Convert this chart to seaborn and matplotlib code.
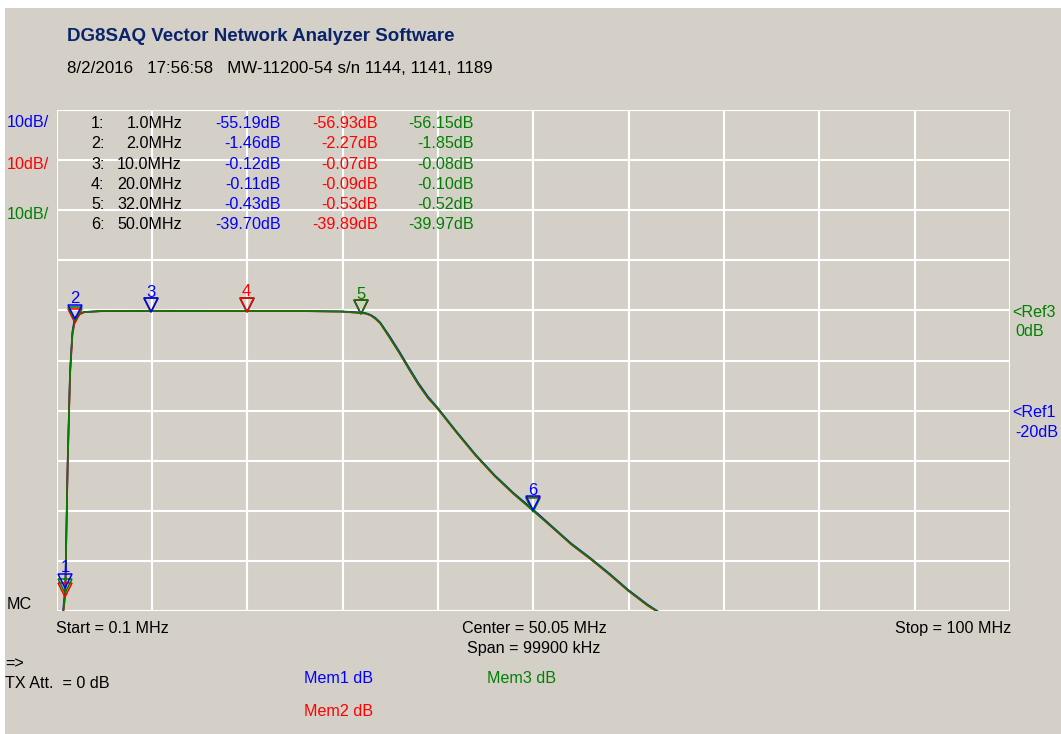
import matplotlib
matplotlib.use("Agg")
import matplotlib.pyplot as plt
import matplotlib.transforms as mtransforms
from matplotlib.patches import Rectangle
import numpy as np
import pandas as pd
import seaborn as sns

# ---------------- data ----------------
freq_mhz = [0.1, 0.5, 0.75, 1.0, 1.25, 1.5, 1.75, 2.0, 2.5, 3.0, 5.0, 10.0, 15.0,
            20.0, 25.0, 30.0, 32.0, 32.5, 33.0, 33.5, 34.0, 35.0, 36.0, 37.0, 38.0, 39.0, 40.0,
            42.0, 44.0, 46.0, 48.0, 50.0, 52.0, 54.0, 56.0, 58.0, 60.0, 62.0, 64.0]
mem1_db = [-80.0, -70.0, -60.5, -55.19, -30.0, -12.0, -4.2, -1.46, -0.6, -0.3, -0.15, -0.12, -0.1,
           -0.11, -0.12, -0.2, -0.43, -0.55, -0.9, -1.5, -2.4, -5.2, -8.2, -11.4, -14.5, -17.2, -19.4,
           -24.2, -28.8, -32.9, -36.5, -39.70, -43.1, -46.5, -49.4, -52.5, -55.8, -58.7, -61.2]
mem2_db = [-80.0, -70.0, -61.0, -56.93, -31.0, -13.0, -4.8, -2.27, -0.8, -0.35, -0.1, -0.07, -0.08,
           -0.09, -0.12, -0.25, -0.53, -0.65, -1.0, -1.7, -2.6, -5.5, -8.5, -11.7, -14.8, -17.5, -19.6,
           -24.4, -29.0, -33.1, -36.7, -39.89, -43.3, -46.7, -49.6, -52.7, -56.0, -58.9, -61.3]
mem3_db = [-80.0, -70.0, -60.8, -56.15, -30.5, -12.5, -4.5, -1.85, -0.7, -0.32, -0.1, -0.08, -0.09,
           -0.10, -0.12, -0.24, -0.52, -0.62, -0.95, -1.6, -2.5, -5.4, -8.4, -11.6, -14.7, -17.4, -19.5,
           -24.3, -28.9, -33.0, -36.6, -39.97, -43.2, -46.6, -49.5, -52.6, -55.9, -58.8, -61.2]

marker_freq = [1.0, 2.0, 10.0, 20.0, 32.0, 50.0]
marker_mem1 = [-55.19, -1.46, -0.12, -0.11, -0.43, -39.70]
marker_mem2 = [-56.93, -2.27, -0.07, -0.09, -0.53, -39.89]
marker_mem3 = [-56.15, -1.85, -0.08, -0.10, -0.52, -39.97]
marker_freq_labels = ["1.0MHz", "2.0MHz", "10.0MHz", "20.0MHz", "32.0MHz", "50.0MHz"]
marker_top = ["blue", "blue", "blue", "red", "green", "blue"]

BG = "#D4D0C8"
BLUE = "#0000FF"
RED = "#FF0000"
GREEN = "#008000"
NAVY = "#0A246A"
colors = {"blue": BLUE, "red": RED, "green": GREEN}

plt.rcParams["font.family"] = ["Liberation Sans", "DejaVu Sans"]

W, H = 1061, 734
fig = plt.figure(figsize=(W / 100, H / 100), dpi=100)
fig.patch.set_facecolor("white")
fig.add_artist(Rectangle((5 / W, 0), 1 - 5 / W, 1 - 8 / H, transform=fig.transFigure,
                         facecolor=BG, edgecolor="none", zorder=0))

x0, x1, y0, y1 = 56.7, 1010.0, 110.0, 611.0
ax = fig.add_axes([x0 / W, 1 - y1 / H, (x1 - x0) / W, (y1 - y0) / H])
ax.set_facecolor(BG)
ax.patch.set_alpha(0)

df = pd.DataFrame({"f": freq_mhz * 3,
                   "db": mem1_db + mem2_db + mem3_db,
                   "mem": ["Mem1"] * len(freq_mhz) + ["Mem2"] * len(freq_mhz) + ["Mem3"] * len(freq_mhz)})
sns.lineplot(data=df, x="f", y="db", hue="mem", palette={"Mem1": BLUE, "Mem2": RED, "Mem3": GREEN},
             hue_order=["Mem1", "Mem2", "Mem3"], ax=ax, linewidth=1.2, legend=False, estimator=None,
             sort=False, zorder=3)
for ln, z in zip(ax.lines, [3, 3.2, 3.4]):
    ln.set_zorder(z)

ax.set_xlim(0.1, 100)
ax.set_ylim(-60, 40)
ax.set_xticks(np.linspace(0.1, 100, 11))
ax.set_yticks(np.arange(-60, 41, 10))
ax.grid(True, color="white", linewidth=1.5)
ax.tick_params(length=0, labelbottom=False, labelleft=False)
for s in ax.spines.values():
    s.set_visible(False)
ax.set_xlabel("")
ax.set_ylabel("")

# markers
tri = mtransforms.offset_copy(ax.transData, fig=fig, x=0, y=6, units="dots")
num = mtransforms.offset_copy(ax.transData, fig=fig, x=0, y=19, units="dots")
traces = {"blue": marker_mem1, "red": marker_mem2, "green": marker_mem3}
for i, f in enumerate(marker_freq):
    order = [c for c in ["blue", "red", "green"] if c != marker_top[i]] + [marker_top[i]]
    for k, c in enumerate(order):
        v = traces[c][i]
        ax.plot([f], [v], marker="v", markersize=10, markerfacecolor="none",
                markeredgecolor=colors[c], markeredgewidth=1.1, transform=tri,
                zorder=5 + k, clip_on=False)
    vt = traces[marker_top[i]][i]
    ax.text(f, vt, str(i + 1), transform=num, ha="center", va="center",
            fontsize=12, color=colors[marker_top[i]], zorder=9, clip_on=False)

FS = 11.6
def ftxt(x, y, s, **kw):
    kw.setdefault("fontsize", FS)
    kw.setdefault("va", "center")
    fig.text(x / W, 1 - (y + 1.5) / H, s, **kw)

ftxt(67, 35, "DG8SAQ Vector Network Analyzer Software", fontsize=13.5, fontweight="bold", color=NAVY)
ftxt(67, 67, "8/2/2016   17:56:58   MW-11200-54 s/n 1144, 1141, 1189", fontsize=12.2, color="black")

ftxt(7, 121, "10dB/", color=BLUE)
ftxt(7, 163, "10dB/", color=RED)
ftxt(7, 213, "10dB/", color=GREEN)

for i in range(6):
    y = 122 + i * 20.3
    ftxt(91, y, f"{i + 1}:", color="black")
    ftxt(182, y, marker_freq_labels[i], color="black", ha="right")
    ftxt(281, y, f"{marker_mem1[i]:.2f}dB", color=BLUE, ha="right")
    ftxt(378, y, f"{marker_mem2[i]:.2f}dB", color=RED, ha="right")
    ftxt(474, y, f"{marker_mem3[i]:.2f}dB", color=GREEN, ha="right")

ftxt(7, 603, "MC", color="black")
ftxt(56, 627, "Start = 0.1 MHz", color="black")
ftxt(534, 627, "Center = 50.05 MHz", color="black", ha="center")
ftxt(534, 647, "Span = 99900 kHz", color="black", ha="center")
ftxt(1011, 627, "Stop = 100 MHz", color="black", ha="right")
ftxt(5, 662, "=>", color="black")
ftxt(5, 682, "TX Att.  = 0 dB", color="black")
ftxt(304, 677, "Mem1 dB", color=BLUE)
ftxt(304, 710, "Mem2 dB", color=RED)
ftxt(487, 677, "Mem3 dB", color=GREEN)

ftxt(1012, 311, "<Ref3", color=GREEN)
ftxt(1015, 330, "0dB", color=GREEN)
ftxt(1012, 411, "<Ref1", color=BLUE)
ftxt(1015, 431, "-20dB", color=BLUE)

fig.savefig("out.png", dpi=100, facecolor=fig.get_facecolor())
